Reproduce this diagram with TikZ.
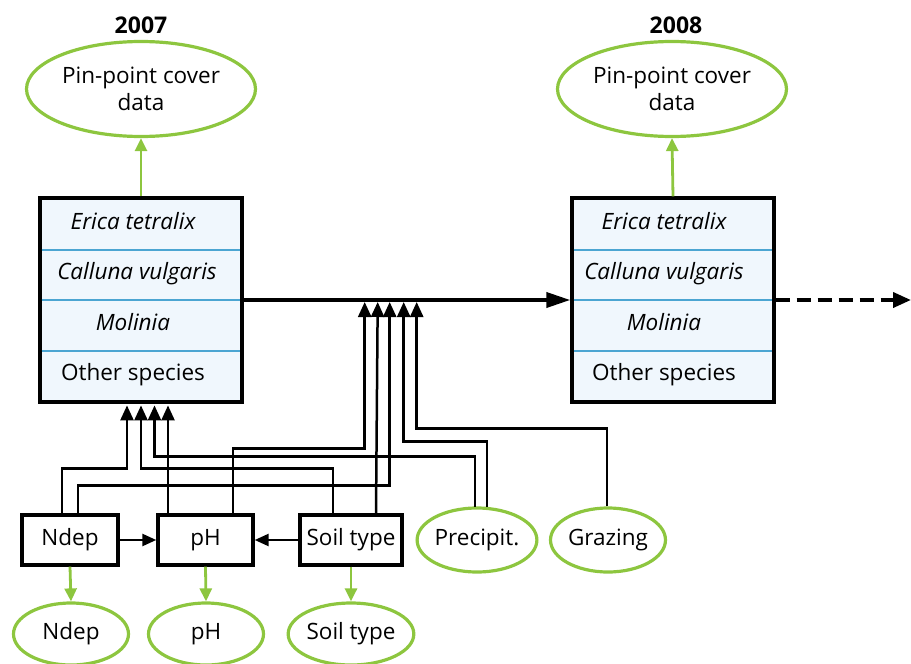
\documentclass[tikz,border=0pt]{standalone}
\usepackage{fontspec}
\setmainfont{Open Sans}
\usetikzlibrary{arrows.meta,shapes.geometric,calc}
\definecolor{leaf}{RGB}{141,198,63}
\definecolor{rowline}{RGB}{75,165,210}
\definecolor{panel}{RGB}{240,247,253}

\begin{document}
\begin{tikzpicture}[x=1pt,y=-1pt,
  every node/.style={font=\fontsize{22.5}{27}\selectfont, inner sep=0pt},
  species/.style={draw=black, line width=3.4pt, fill=panel, minimum width=202pt, minimum height=204pt},
  rowtext/.style={text height=16pt, text depth=5pt},
  sp/.style={rowtext, font=\fontsize{22.5}{27}\selectfont\itshape},
  driver/.style={draw=black, line width=3.4pt, minimum height=50pt},
  datum/.style={ellipse, draw=leaf, line width=3.2pt},
  yearlabel/.style={font=\fontsize{23}{27}\selectfont\bfseries},
  link/.style={line width=2.5pt, -{Triangle[length=15pt,width=13pt]}},
  sidelink/.style={line width=2.5pt, -{Triangle[length=14pt,width=12pt]}},
  obs/.style={draw=leaf, line width=2.8pt, -{Triangle[length=13pt,width=12pt]}},
  mainflow/.style={line width=3.8pt, -{Triangle[length=24pt,width=15pt]}},
  nextflow/.style={line width=3.8pt, dash pattern=on 14pt off 7pt, -{Triangle[length=18pt,width=15pt]}},
  divider/.style={draw=rowline, line width=2pt}
]
\useasboundingbox (0,0) rectangle (911,664);

% year 2007
\node[yearlabel] (y1) at (141,25) {2007};
\node[datum, minimum width=229pt, minimum height=95pt, align=center] (pp1) at (141,89) {Pin-point cover\\data};
\node[species] (box1) at (141,300) {};
\draw[divider] (41.7,250) -- (240.3,250);
\draw[divider] (41.7,300) -- (240.3,300);
\draw[divider] (41.7,351) -- (240.3,351);
\node[sp] (e1) at (133,224) {Erica tetralix};
\node[sp] (c1) at (137,274) {Calluna vulgaris};
\node[sp] (m1) at (133,324.5) {Molinia};
\node[rowtext] (o1) at (133,375) {Other species};

% year 2008
\node[yearlabel] (y2) at (676,25) {2008};
\node[datum, minimum width=229pt, minimum height=95pt, align=center] (pp2) at (672,89) {Pin-point cover\\data};
\node[species] (box2) at (673,300) {};
\draw[divider] (573.7,250) -- (772.3,250);
\draw[divider] (573.7,300) -- (772.3,300);
\draw[divider] (573.7,351) -- (772.3,351);
\node[sp] (e2) at (664,224) {Erica tetralix};
\node[sp] (c2) at (664,274) {Calluna vulgaris};
\node[sp] (m2) at (664,324.5) {Molinia};
\node[rowtext] (o2) at (664,375) {Other species};

% drivers
\node[driver, minimum width=96pt] (ndep) at (70,540) {Ndep};
\node[driver, minimum width=95pt] (ph) at (205.5,540) {pH};
\node[driver, minimum width=102pt] (soil) at (351,540) {Soil type};
\node[datum, minimum width=110pt, minimum height=64pt] (precip) at (477,540) {Precipit.};
\node[datum, minimum width=115pt, minimum height=64pt] (graze) at (608,540) {Grazing};

% measured drivers
\node[datum, minimum width=115pt, minimum height=62pt] (ndepM) at (71,634) {Ndep};
\node[datum, minimum width=115pt, minimum height=62pt] (phM) at (206,634) {pH};
\node[datum, minimum width=112pt, minimum height=62pt] (soilM) at (351,634) {Soil type};

% transition between years
\draw[mainflow] (box1.east) -- (box2.west);
\coordinate (beyond) at (911,300);
\draw[nextflow] (box2.east) -- (beyond);

% entry points on the transition arrow
\coordinate (j1) at ($(box1.east)+(121,2)$);
\coordinate (j2) at ($(box1.east)+(134,2)$);
\coordinate (j3) at ($(box1.east)+(146,2)$);
\coordinate (j4) at ($(box1.east)+(160,2)$);
\coordinate (j5) at ($(box1.east)+(173,2)$);

% entry points below the 2007 box
\coordinate (k1) at ($(box1.south)+(-14,1.7)$);
\coordinate (k2) at ($(box1.south)+(0,1.7)$);
\coordinate (k3) at ($(box1.south)+(13.5,1.7)$);
\coordinate (k4) at ($(box1.south)+(27,1.7)$);

% drivers acting on the 2007 composition
\draw[link] ($(ndep.north)+(-8,0)$) -- ++(0,-45) -| (k1);
\draw[link] ($(soil.north)+(-18,0)$) -- ++(0,-45) -| (k2);
\draw[link] ($(precip.north)+(-2,0.3)$) -- ++(0,-50.3) -| (k3);
\draw[link] ($(ph.north)+(-37.5,0)$) -- (k4);

% drivers acting on the change
\draw[link] ($(ph.north)+(27.5,0)$) -- ++(0,-65) -| (j1);
\draw[link] ($(soil.north)+(25,0)$) -- (j2);
\draw[link] ($(ndep.north)+(8,0)$) -- ++(0,-28) -| (j3);
\draw[link] ($(precip.north)+(10,0.6)$) -- ++(0,-65.6) -| (j4);
\draw[link] ($(graze.north)+(-1,0)$) -- ++(0,-78) -| (j5);

% driver interactions
\draw[sidelink] (ndep.east) -- (ph.west);
\draw[sidelink] (soil.west) -- (ph.east);

% observations
\draw[obs] (box1.north) -- (pp1.south);
\draw[obs] (box2.north) -- (pp2.south);
\draw[obs] (ndep.south) -- (ndepM.north);
\draw[obs] (ph.south) -- (phM.north);
\draw[obs] (soil.south) -- (soilM.north);
\end{tikzpicture}
\end{document}
